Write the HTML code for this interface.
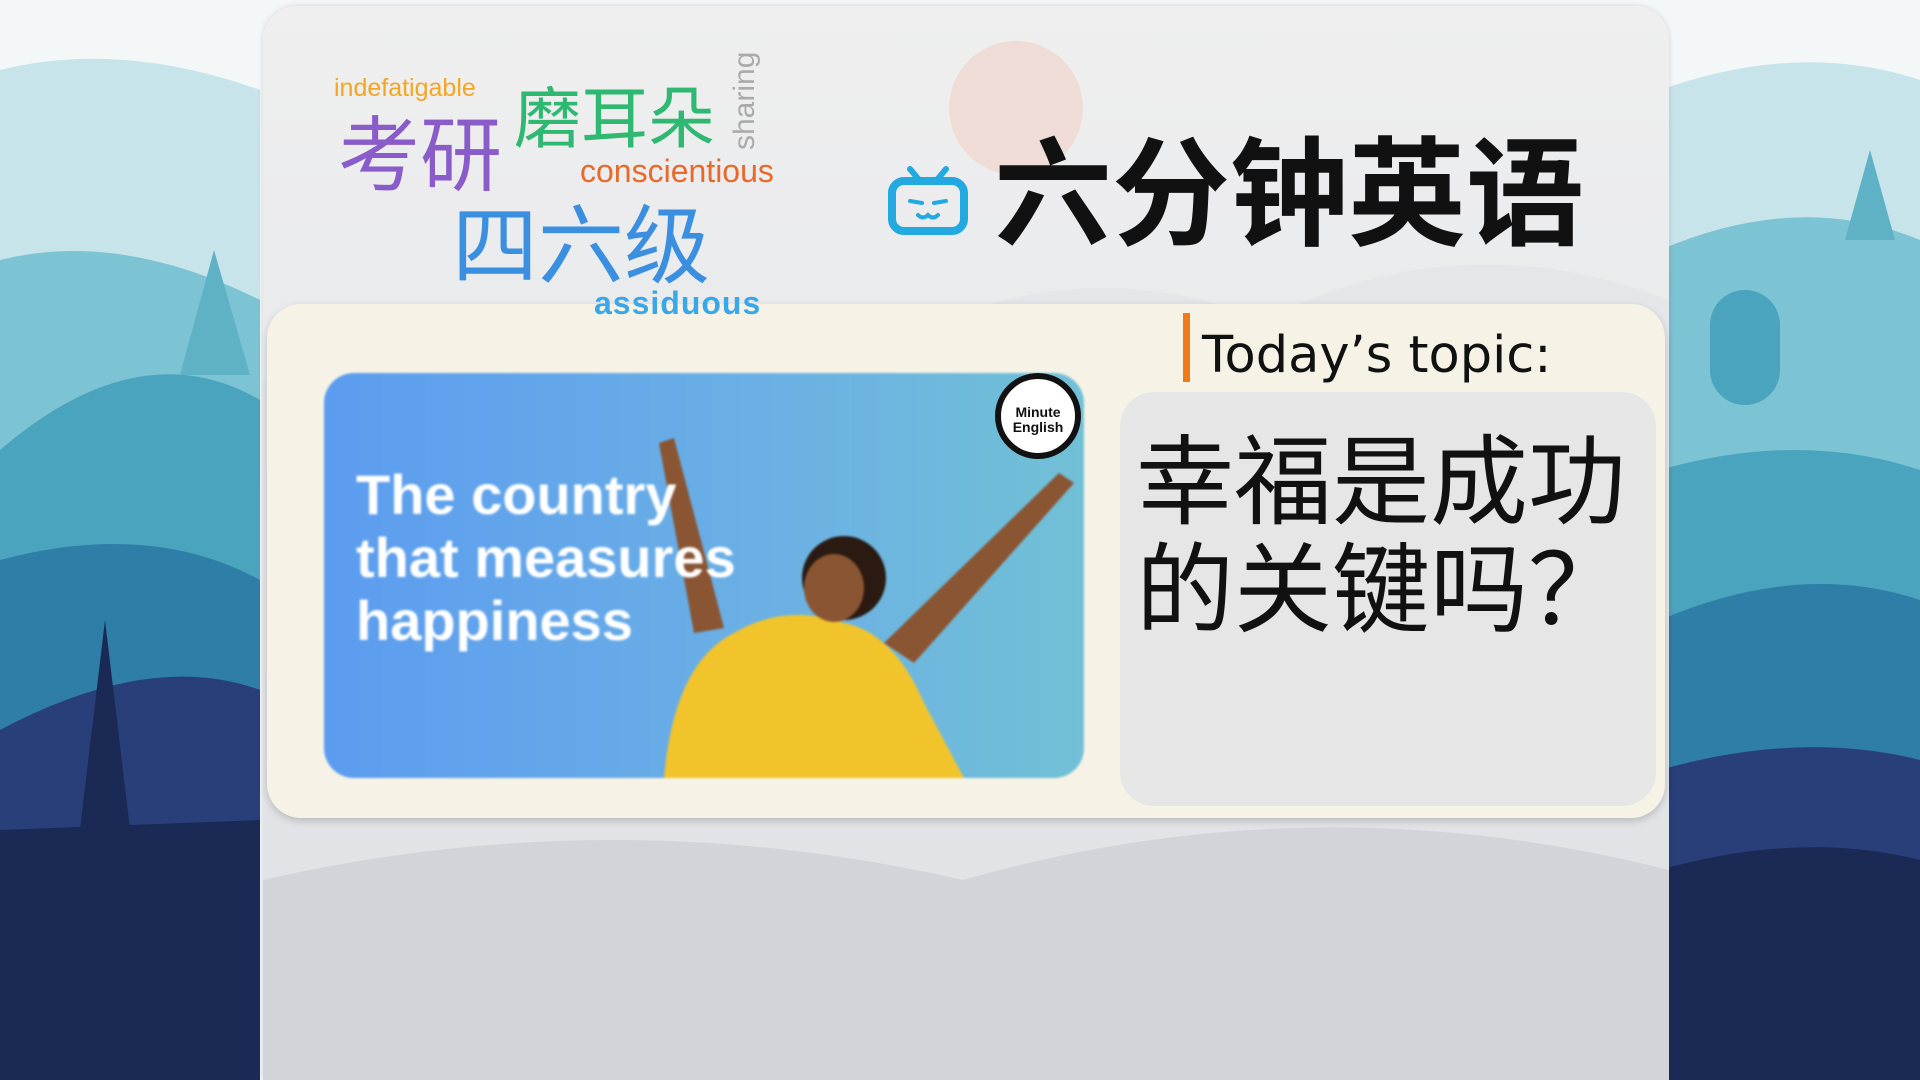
<!DOCTYPE html>
<html><head><meta charset="utf-8"><style>
*{margin:0;padding:0;box-sizing:border-box}
html,body{width:1920px;height:1080px;overflow:hidden}
body{position:relative;background:#f4f7f8;font-family:"Liberation Sans","Noto Sans CJK SC",sans-serif}
.abs{position:absolute}
</style></head><body>
<svg class="abs" style="left:0;top:0" width="1920" height="1080">
<path d="M0 70 Q120 40 260 90 L260 1080 L0 1080Z" fill="#c7e4ea"/>
<path d="M0 260 Q120 230 260 300 L260 1080 L0 1080Z" fill="#7cc3d3"/>
<path d="M0 450 Q140 330 260 400 L260 1080 L0 1080Z" fill="#4ba4bd"/>
<path d="M0 560 Q150 520 260 580 L260 1080 L0 1080Z" fill="#2f7ea8"/>
<path d="M0 730 Q150 650 260 690 L260 1080 L0 1080Z" fill="#283f7a"/>
<path d="M0 830 L260 820 L260 1080 L0 1080Z" fill="#1a2a55"/>
<polygon points="105,620 50,1080 160,1080" fill="#1a2a55"/>
<polygon points="214,250 180,375 250,375" fill="#5fb1c6"/>
<path d="M1660 90 Q1800 40 1920 80 L1920 1080 L1660 1080Z" fill="#c7e4ea"/>
<path d="M1660 250 Q1800 190 1920 240 L1920 1080 L1660 1080Z" fill="#7cc3d3"/>
<path d="M1660 470 Q1800 430 1920 470 L1920 1080 L1660 1080Z" fill="#4ba4bd"/>
<path d="M1660 620 Q1800 560 1920 600 L1920 1080 L1660 1080Z" fill="#2f7ea8"/>
<path d="M1660 770 Q1800 730 1920 760 L1920 1080 L1660 1080Z" fill="#283f7a"/>
<path d="M1660 870 Q1800 830 1920 860 L1920 1080 L1660 1080Z" fill="#1a2a55"/>
<rect x="1710" y="290" width="70" height="115" rx="35" fill="#4ba4bd"/>
<polygon points="1870,150 1845,240 1895,240" fill="#5fb1c6"/>
</svg>
<div class="abs" style="left:263px;top:6px;width:1406px;height:1074px;border-radius:34px 34px 0 0;background:linear-gradient(#efefef,#e4e6ea 60%,#d8d9de);box-shadow:0 0 6px rgba(0,0,0,.15)"></div>
<div class="abs" style="left:949px;top:41px;width:134px;height:134px;border-radius:50%;background:#efdcd6"></div>
<svg class="abs" style="left:263px;top:180px" width="1406" height="900">
<path d="M0 200 Q300 100 600 180 Q800 60 1000 140 Q1200 40 1406 120 L1406 900 L0 900Z" fill="#e2e4e8" opacity=".7"/>
<path d="M0 700 Q350 620 700 700 Q1050 600 1406 690 L1406 900 L0 900Z" fill="#d2d4da"/>
</svg>
<div class="abs" style="left:267px;top:304px;width:1398px;height:514px;border-radius:34px;background:#f6f3e6;box-shadow:0 3px 8px rgba(0,0,0,.18)"></div>
<div class="abs" style="left:334px;top:74px;font-size:25px;color:#f2a623">indefatigable</div>
<div class="abs" style="left:338px;top:116px;font-size:82px;line-height:1;color:#8a5cc9">考研</div>
<div class="abs" style="left:514px;top:86px;font-size:67px;line-height:1;color:#2eb872">磨耳朵</div>
<div class="abs" style="left:728px;top:30px;font-size:30px;color:#aaa;transform-origin:0 0;transform:rotate(-90deg) translate(-120px,0)">sharing</div>
<div class="abs" style="left:580px;top:153px;font-size:32px;color:#e8692a">conscientious</div>
<div class="abs" style="left:452px;top:204px;font-size:86px;line-height:1;color:#3b8fe0">四六级</div>
<div class="abs" style="left:594px;top:285px;font-size:32px;color:#3aa8e8;font-weight:bold;letter-spacing:1px">assiduous</div>
<svg class="abs" style="left:888px;top:165px" width="80" height="72">
<path d="M22 4 L32 16 M58 4 L48 16" stroke="#22a9e0" stroke-width="6" stroke-linecap="round"/>
<rect x="4" y="16" width="72" height="50" rx="12" fill="none" stroke="#22a9e0" stroke-width="8"/>
<path d="M22 36 L34 38 M58 36 L46 38 M30 50 Q35 55 40 50 Q45 55 50 50" stroke="#22a9e0" stroke-width="4" fill="none" stroke-linecap="round"/>
</svg>
<div class="abs" style="left:994px;top:137px;font-size:118px;line-height:1;font-weight:bold;color:#111">六分钟英语</div>
<div class="abs" style="left:324px;top:373px;width:760px;height:405px;border-radius:30px;background:linear-gradient(90deg,#5c9cf0,#6bb1e4 60%,#71c0d6);filter:blur(1px);overflow:hidden">
<svg class="abs" style="left:0;top:0" width="760" height="405">
<path d="M340 405 Q350 290 410 260 Q460 230 520 250 Q570 260 600 330 L640 405Z" fill="#f2c42b"/>
<circle cx="520" cy="205" r="42" fill="#2a1a12"/>
<ellipse cx="510" cy="215" rx="30" ry="34" fill="#8a5532"/>
<path d="M370 260 L335 70 L350 65 L400 255Z" fill="#8a5532"/>
<path d="M560 270 L735 100 L750 110 L590 290Z" fill="#8a5532"/>
</svg>
<div class="abs" style="left:32px;top:90px;font-size:56px;line-height:63px;font-weight:bold;color:#fff">The country<br>that measures<br>happiness</div>
</div>
<div class="abs" style="left:995px;top:373px;width:86px;height:86px;border-radius:50%;background:#fff;border:6px solid #111;text-align:center;font-size:14px;font-weight:bold;line-height:15px;padding-top:26px;color:#111">Minute<br>English</div>
<div class="abs" style="left:1183px;top:313px;width:7px;height:69px;background:#f07a1a"></div>
<div class="abs" style="left:1202px;top:326px;font-size:51px;color:#111;font-family:'DejaVu Sans',sans-serif;font-weight:500">Today’s topic:</div>
<div class="abs" style="left:1120px;top:392px;width:536px;height:414px;border-radius:34px;background:#e6e6e6"></div>
<div class="abs" style="left:1136px;top:420px;font-size:98px;line-height:108px;color:#111;font-family:'Noto Sans CJK SC',sans-serif">幸福是成功<br>的关键吗？</div>
</body></html>
